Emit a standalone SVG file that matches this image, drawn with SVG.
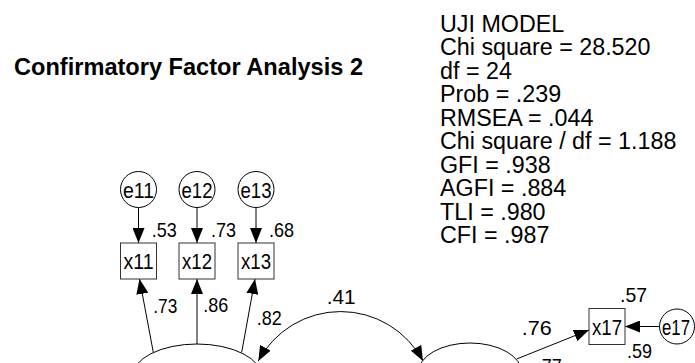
<svg xmlns="http://www.w3.org/2000/svg" width="695" height="363" viewBox="0 0 695 363">
<style>
.t{font-family:"Liberation Sans",Arial,sans-serif;fill:#000}
.title{font-size:23.5px;font-weight:bold}
.stat{font-size:23.3px}
.lbl{font-size:21px}
.nd{font-size:22.5px;text-anchor:middle}
.shape{fill:#fff;stroke:#000;stroke-width:1}
.box{fill:#fff;stroke:#333;stroke-width:1}
.con{fill:none;stroke:#000;stroke-width:1}
</style>
<defs>
<marker id="ah" markerUnits="userSpaceOnUse" markerWidth="15" markerHeight="12" viewBox="0 0 15 12" refX="15" refY="6" orient="auto-start-reverse">
<path d="M0,0 L15,6 L0,12 z" fill="#000"/>
</marker>
</defs>
<rect width="695" height="363" fill="#fff"/>
<text class="t title" x="14" y="75" textLength="349" lengthAdjust="spacingAndGlyphs">Confirmatory Factor Analysis 2</text>
<g id="fit-stats">
<text class="t stat" x="440" y="31.7">UJI MODEL</text>
<text class="t stat" x="440" y="55.2">Chi square = 28.520</text>
<text class="t stat" x="440" y="78.7">df = 24</text>
<text class="t stat" x="440" y="102.2">Prob = .239</text>
<text class="t stat" x="440" y="125.7">RMSEA = .044</text>
<text class="t stat" x="440" y="149.2">Chi square / df = 1.188</text>
<text class="t stat" x="440" y="172.7">GFI = .938</text>
<text class="t stat" x="440" y="196.2">AGFI = .884</text>
<text class="t stat" x="440" y="219.7">TLI = .980</text>
<text class="t stat" x="440" y="243.2">CFI = .987</text>
</g>
<g id="connectors">
<path class="con" d="M138.5,207.5 L138.5,243" marker-end="url(#ah)"/>
<path class="con" d="M197,207.5 L197,243" marker-end="url(#ah)"/>
<path class="con" d="M256,207.5 L256,243" marker-end="url(#ah)"/>
<path class="con" d="M153.3,352.3 L139.5,279" marker-end="url(#ah)"/>
<path class="con" d="M197,344 L197,279" marker-end="url(#ah)"/>
<path class="con" d="M241.7,352.3 L255,279" marker-end="url(#ah)"/>
<path class="con" d="M258.3,361 A93.3,93.3 0 0 1 423,361" marker-start="url(#ah)" marker-end="url(#ah)"/>
<path class="con" d="M516.7,359 L589,330" marker-end="url(#ah)"/>
<path class="con" d="M659,326.5 L625,326.5" marker-end="url(#ah)"/>
</g>
<g id="F1"><ellipse class="shape" cx="197" cy="377" rx="65" ry="33"/></g>
<g id="F2"><ellipse class="shape" cx="470" cy="373" rx="52" ry="30"/></g>
<g id="e11"><circle class="shape" cx="138.5" cy="189.5" r="18"/><text class="t nd" x="138.5" y="197.5" textLength="31" lengthAdjust="spacingAndGlyphs">e11</text></g>
<g id="e12"><circle class="shape" cx="197" cy="189.5" r="18"/><text class="t nd" x="197" y="197.5" textLength="31" lengthAdjust="spacingAndGlyphs">e12</text></g>
<g id="e13"><circle class="shape" cx="256" cy="189.5" r="18"/><text class="t nd" x="256" y="197.5" textLength="31" lengthAdjust="spacingAndGlyphs">e13</text></g>
<g id="x11"><rect class="box" x="120.5" y="243" width="36" height="36"/><text class="t nd" x="138.5" y="269" textLength="30" lengthAdjust="spacingAndGlyphs">x11</text></g>
<g id="x12"><rect class="box" x="179" y="243" width="36" height="36"/><text class="t nd" x="197" y="269" textLength="30" lengthAdjust="spacingAndGlyphs">x12</text></g>
<g id="x13"><rect class="box" x="238" y="243" width="36" height="36"/><text class="t nd" x="256" y="269" textLength="30" lengthAdjust="spacingAndGlyphs">x13</text></g>
<g id="x17"><rect class="box" x="589" y="308.5" width="36" height="36"/><text class="t nd" x="607" y="334.5" textLength="30" lengthAdjust="spacingAndGlyphs">x17</text></g>
<g id="e17"><circle class="shape" cx="677" cy="326.5" r="17.5"/><text class="t nd" x="676" y="334.5" textLength="28" lengthAdjust="spacingAndGlyphs">e17</text></g>
<g id="labels">
<text class="t lbl" x="151.7" y="236.7" textLength="25" lengthAdjust="spacingAndGlyphs">.53</text>
<text class="t lbl" x="211" y="236.7" textLength="25" lengthAdjust="spacingAndGlyphs">.73</text>
<text class="t lbl" x="269" y="236.7" textLength="25" lengthAdjust="spacingAndGlyphs">.68</text>
<text class="t lbl" x="153.3" y="313" textLength="24" lengthAdjust="spacingAndGlyphs">.73</text>
<text class="t lbl" x="203.3" y="311.7" textLength="25" lengthAdjust="spacingAndGlyphs">.86</text>
<text class="t lbl" x="256.7" y="325" textLength="25" lengthAdjust="spacingAndGlyphs">.82</text>
<text class="t lbl" x="326.7" y="304" textLength="29" lengthAdjust="spacingAndGlyphs">.41</text>
<text class="t lbl" x="521.7" y="335" textLength="30" lengthAdjust="spacingAndGlyphs">.76</text>
<text class="t lbl" x="620" y="301.7" textLength="27" lengthAdjust="spacingAndGlyphs">.57</text>
<text class="t lbl" x="627" y="358" textLength="25" lengthAdjust="spacingAndGlyphs">.59</text>
<text class="t lbl" x="536.7" y="373" textLength="25" lengthAdjust="spacingAndGlyphs">.77</text>
</g>
</svg>
